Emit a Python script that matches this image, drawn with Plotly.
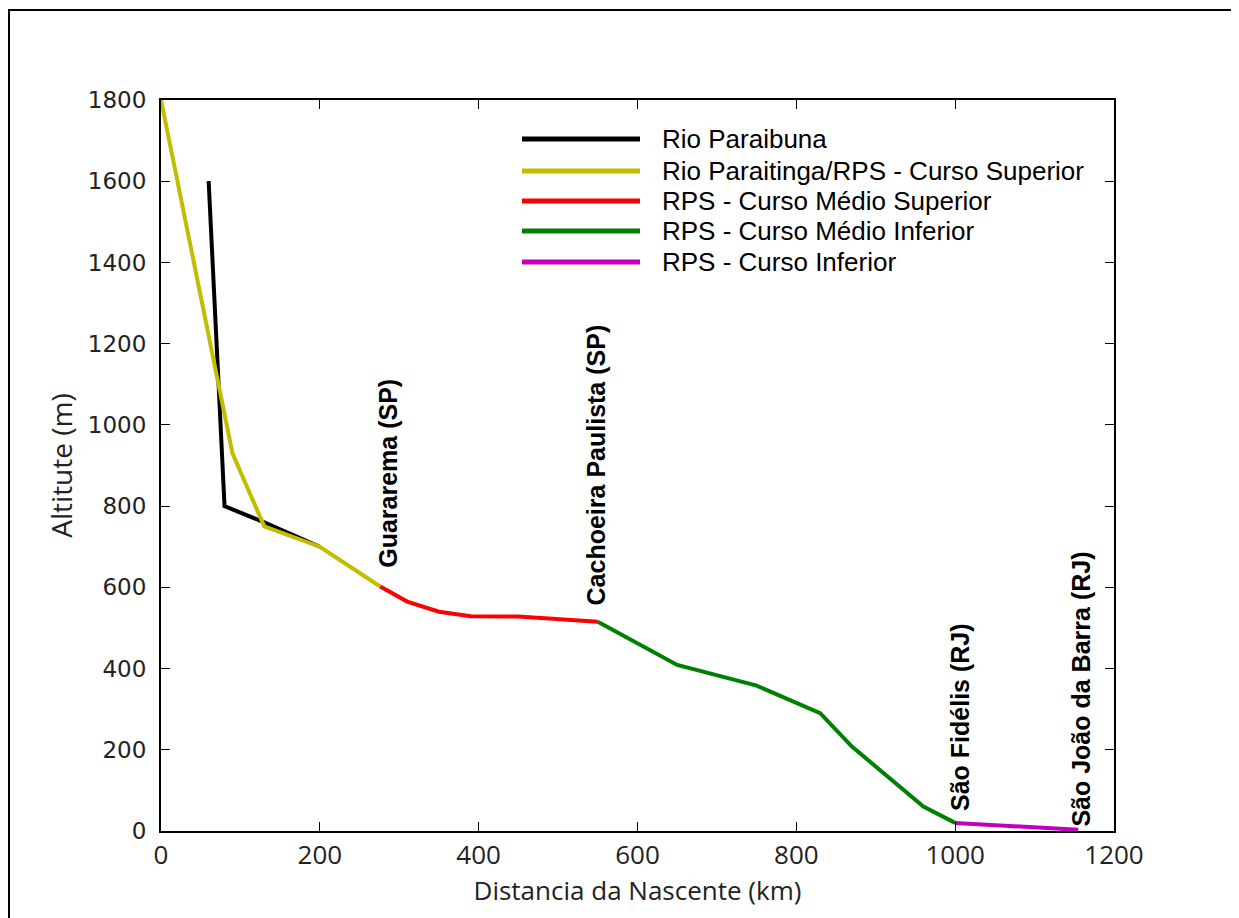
import plotly.graph_objects as go

# ---- data ----
series_names = [
    "Rio Paraibuna",
    "Rio Paraitinga/RPS - Curso Superior",
    "RPS - Curso Médio Superior",
    "RPS - Curso Médio Inferior",
    "RPS - Curso Inferior",
]
series_colors = ["#000000", "#bfbf00", "#ff0000", "#008000", "#bf00bf"]

paraibuna_x = [60, 80, 130, 200]
paraibuna_y = [1600, 800, 760, 700]

superior_x = [0, 90, 130, 200, 276]
superior_y = [1800, 930, 750, 700, 602]

medio_sup_x = [276, 310, 350, 390, 450, 550]
medio_sup_y = [602, 565, 540, 529, 528, 515]

medio_inf_x = [550, 650, 750, 830, 870, 960, 1000]
medio_inf_y = [515, 409, 358, 290, 208, 60, 20]

inferior_x = [1000, 1155]
inferior_y = [20, 3]

place_names = ["Guararema (SP)", "Cachoeira Paulista (SP)", "São Fidélis (RJ)", "São João da Barra (RJ)"]
place_x = [266, 529, 988, 1140]
place_y = [645, 552, 46, 8]

x_ticks = [0, 200, 400, 600, 800, 1000, 1200]
y_ticks = [0, 200, 400, 600, 800, 1000, 1200, 1400, 1600, 1800]

xs = [paraibuna_x, superior_x, medio_sup_x, medio_inf_x, inferior_x]
ys = [paraibuna_y, superior_y, medio_sup_y, medio_inf_y, inferior_y]

fig = go.Figure()
for name, color, x, y in zip(series_names, series_colors, xs, ys):
    fig.add_trace(go.Scatter(x=x, y=y, mode="lines", name=name,
                             line=dict(color=color, width=4), showlegend=False))

# place labels (rotated)
for name, x, y in zip(place_names, place_x, place_y):
    fig.add_annotation(x=x, y=y, xref="x", yref="y", text=name, showarrow=False,
                       textangle=-90, xanchor="left", yanchor="bottom", borderpad=0,
                       font=dict(family="Liberation Sans, Arial", size=25, color="black", weight="bold"))

# page offset (body margin) compensation
OFF = 8
plot_left, plot_right, plot_top, plot_bottom = 161, 1114, 100, 831
W = plot_right - plot_left
H = plot_bottom - plot_top
def px_x(p):
    return (p - plot_left) / W
def px_y(p):
    return (plot_bottom - p) / H

# custom legend with long line samples
legend_rows = [139, 171, 201, 231, 262]
for name, color, row in zip(series_names, series_colors, legend_rows):
    fig.add_shape(type="line", xref="paper", yref="paper",
                  x0=px_x(522), x1=px_x(640), y0=px_y(row), y1=px_y(row),
                  line=dict(color=color, width=5))
    fig.add_annotation(x=px_x(660), y=px_y(row), xref="paper", yref="paper",
                       text=name, showarrow=False, xanchor="left", yanchor="middle",
                       font=dict(family="Liberation Sans, Arial", size=26, color="black"))

# outer frame
fig.add_shape(type="rect", xref="paper", yref="paper",
              x0=px_x(OFF + 1), x1=px_x(1232), y0=px_y(940), y1=px_y(OFF + 2),
              line=dict(color="black", width=2), fillcolor="rgba(0,0,0,0)", layer="below")

axis_common = dict(showline=True, linecolor="black", linewidth=2, mirror="allticks",
                   ticks="inside", ticklen=9, tickwidth=1, tickcolor="black",
                   showgrid=False, zeroline=False)

fig.update_xaxes(range=[0, 1200], tickvals=x_ticks,
                 tickfont=dict(family="Open Sans, DejaVu Sans", size=26, color="#222"),
                 ticklabelstandoff=0,
                 title=dict(text="Distancia da Nascente (km)",
                            font=dict(family="Open Sans, DejaVu Sans", size=26, color="#222"),
                            standoff=6),
                 **axis_common)
fig.update_yaxes(range=[0, 1800], tickvals=y_ticks,
                 tickfont=dict(family="DejaVu Sans", size=23, color="#222"),
                 ticklabelstandoff=8,
                 title=dict(text="Altitute (m)",
                            font=dict(family="Open Sans, DejaVu Sans", size=28, color="#222"),
                            standoff=7),
                 **axis_common)

fig.update_layout(width=1239 - OFF, height=918 - OFF,
                  margin=dict(l=plot_left - OFF, r=1239 - plot_right,
                              t=plot_top - OFF, b=918 - plot_bottom),
                  paper_bgcolor="white", plot_bgcolor="white",
                  showlegend=False)

fig.write_html("out.html")
